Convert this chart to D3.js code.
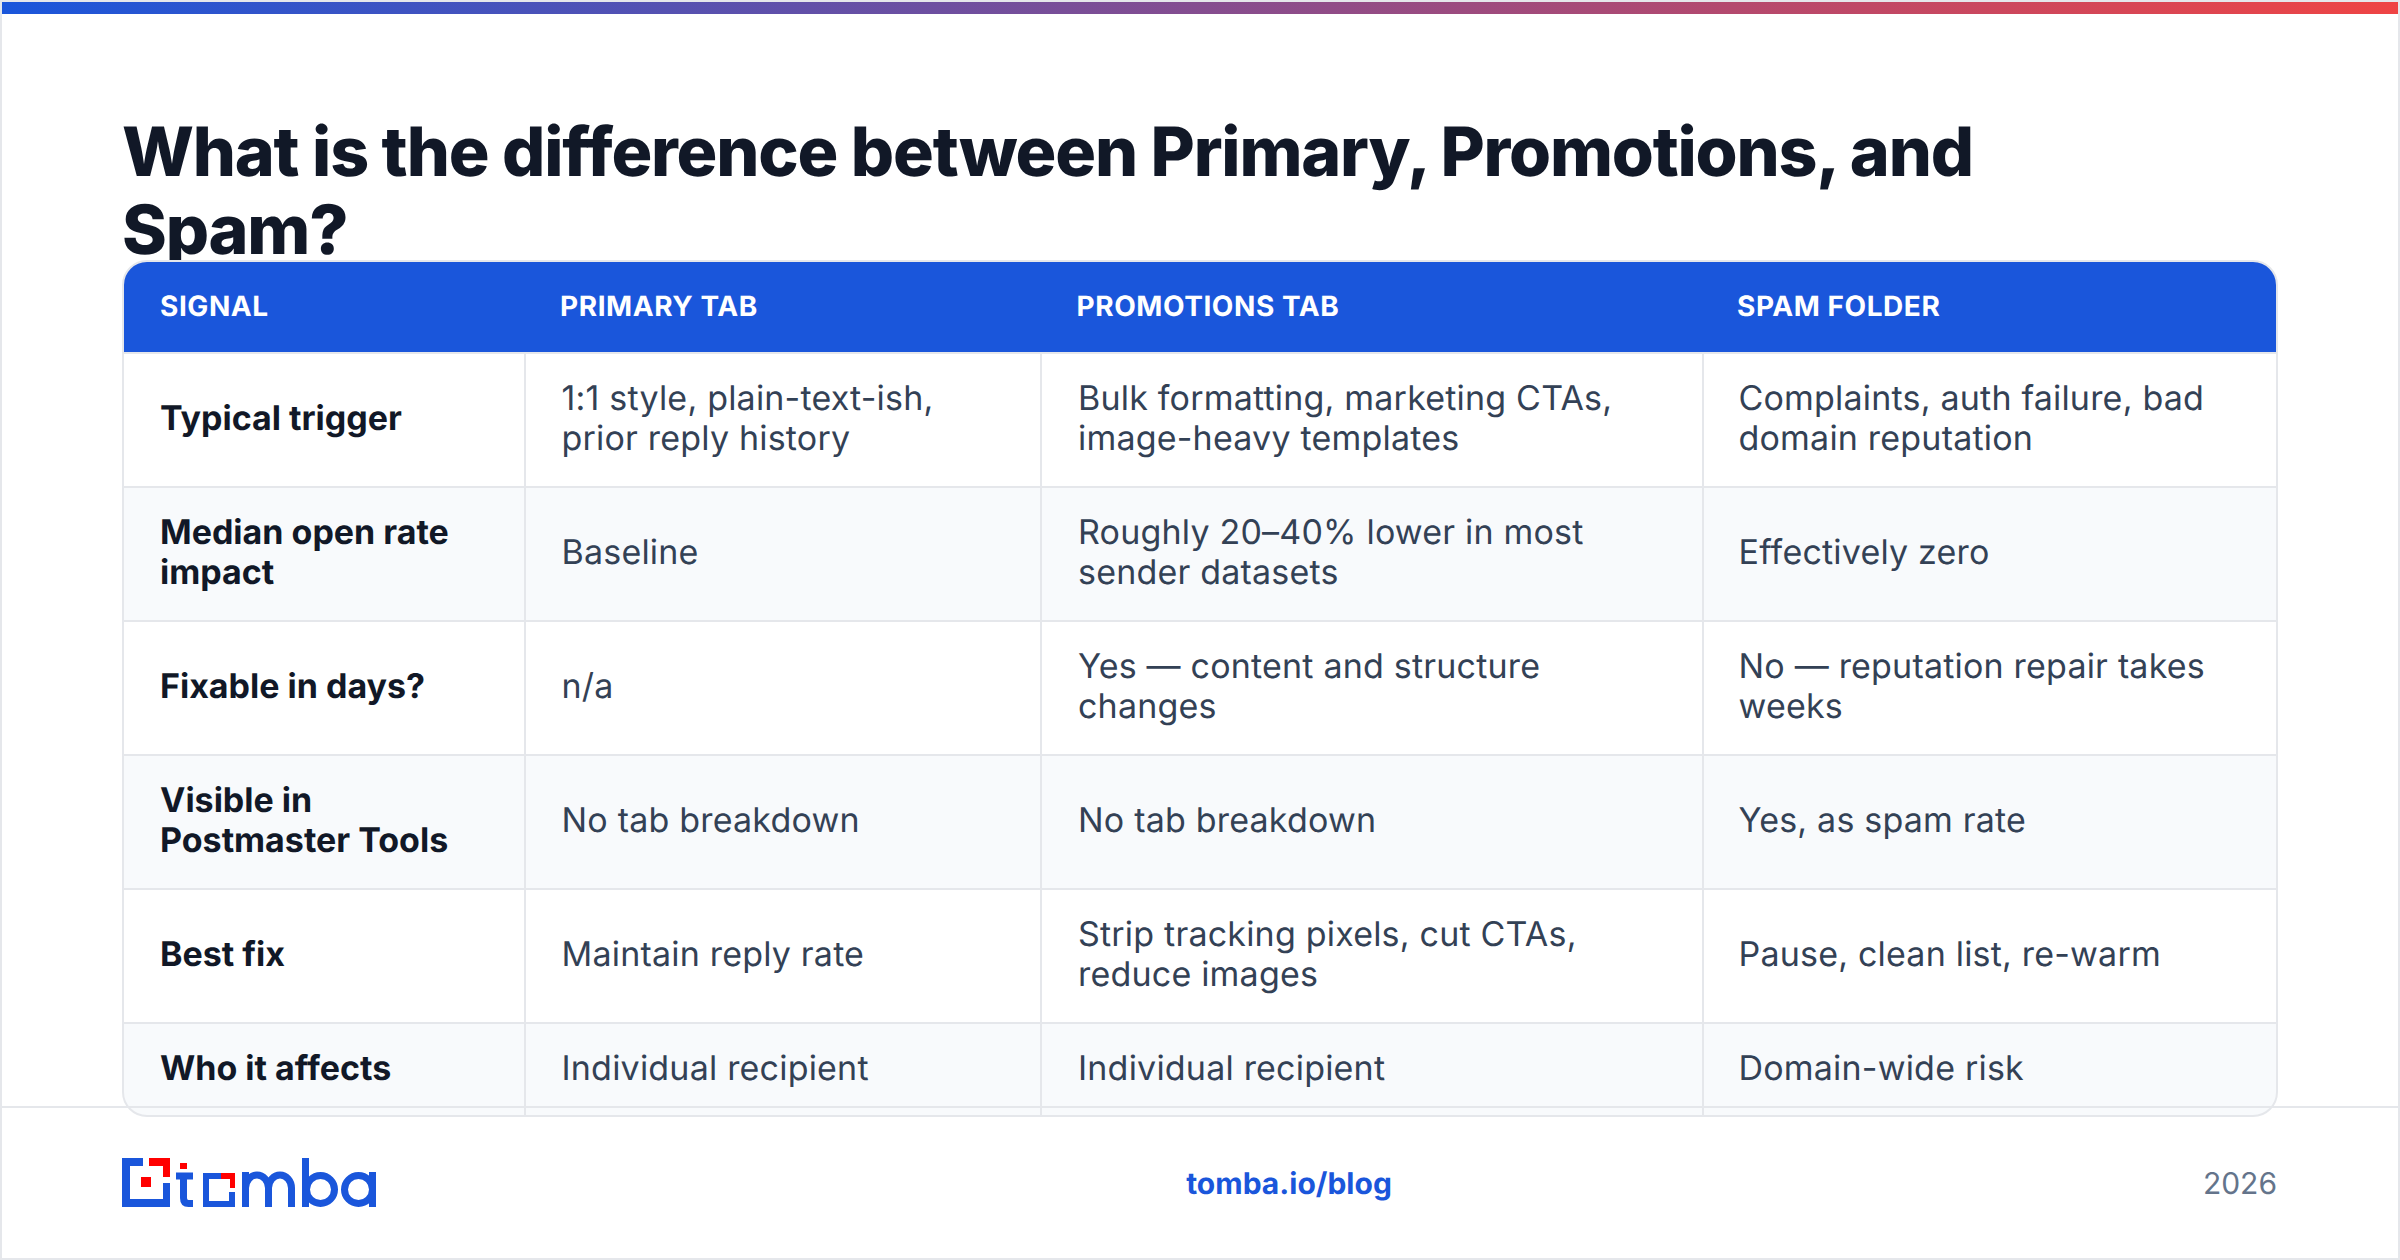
<!DOCTYPE html>
<html>
<head>
<meta charset="utf-8">
<title>Primary, Promotions, Spam</title>
<script src="https://cdn.jsdelivr.net/npm/d3@7"></script>
<style>
    html, body { margin: 0; padding: 0; background: #fff; }
    svg { display: block; font-family: Inter, sans-serif; text-rendering: geometricPrecision; }
</style>
</head>
<body>
<svg id="chart" width="2400" height="1260"></svg>
<script>
var titleLines = ['What is the difference between Primary, Promotions, and', 'Spam?'];
var columns = ['SIGNAL', 'PRIMARY TAB', 'PROMOTIONS TAB', 'SPAM FOLDER'];
var signals = [
    ['Typical trigger'],
    ['Median open rate', 'impact'],
    ['Fixable in days?'],
    ['Visible in', 'Postmaster Tools'],
    ['Best fix'],
    ['Who it affects']
];
var primaryTab = [
    ['1:1 style, plain-text-ish,', 'prior reply history'],
    ['Baseline'],
    ['n/a'],
    ['No tab breakdown'],
    ['Maintain reply rate'],
    ['Individual recipient']
];
var promotionsTab = [
    ['Bulk formatting, marketing CTAs,', 'image-heavy templates'],
    ['Roughly 20–40% lower in most', 'sender datasets'],
    ['Yes — content and structure', 'changes'],
    ['No tab breakdown'],
    ['Strip tracking pixels, cut CTAs,', 'reduce images'],
    ['Individual recipient']
];
var spamFolder = [
    ['Complaints, auth failure, bad', 'domain reputation'],
    ['Effectively zero'],
    ['No — reputation repair takes', 'weeks'],
    ['Yes, as spam rate'],
    ['Pause, clean list, re-warm'],
    ['Domain-wide risk']
];
var footerUrl = 'tomba.io/blog';
var footerYear = '2026';

var W = 2400, H = 1260;
var BORDER = '#e5e7eb', BLUE = '#1a56db', RED = '#ef4444', LOGORED = '#f00', INK = '#111827', BODY = '#334155';

// table layout
var tx0 = 123, tx1 = 2277, ty0 = 261, ty1 = 1116, headH = 91;
var lineX = [525, 1041, 1703];
var headX = [160, 560, 1076.5, 1737];
var cellX = [160, 561.5, 1078, 1738.5];
var rowY = [353, 487, 621, 755, 889, 1023, 1118];
var rows = signals.map(function(s, i) {
    return [s, primaryTab[i], promotionsTab[i], spamFolder[i]];
});

var svg = d3.select('#chart');
var defs = svg.append('defs');

var grad = defs.append('linearGradient').attr('id', 'topbar');
grad.append('stop').attr('offset', 0).attr('stop-color', BLUE);
grad.append('stop').attr('offset', 1).attr('stop-color', RED);

defs.append('clipPath').attr('id', 'tableClip').append('rect')
    .attr('x', tx0).attr('y', ty0).attr('width', tx1 - tx0).attr('height', ty1 - ty0).attr('rx', 24);

// page frame and top bar
svg.append('rect').attr('width', W).attr('height', H).attr('fill', '#fff');
svg.append('rect').attr('x', 2).attr('y', 2).attr('width', W - 4).attr('height', 12).attr('fill', 'url(#topbar)');
svg.append('rect').attr('x', 1).attr('y', 1).attr('width', W - 2).attr('height', H - 2)
    .attr('fill', 'none').attr('stroke', BORDER).attr('stroke-width', 2);

// title
svg.append('g').selectAll('text').data(titleLines).join('text')
    .attr('x', 122)
    .attr('y', function(d, i) { return 176 + i * 78; })
    .attr('font-size', 68).attr('font-weight', 800).attr('letter-spacing', -1.19)
    .attr('fill', INK)
    .text(function(d) { return d; });

// table body
var table = svg.append('g').attr('clip-path', 'url(#tableClip)');
table.append('rect').attr('x', tx0).attr('y', ty0).attr('width', tx1 - tx0).attr('height', ty1 - ty0).attr('fill', '#fff');
table.append('rect').attr('x', tx0).attr('y', ty0).attr('width', tx1 - tx0).attr('height', headH).attr('fill', BLUE);

var rowG = table.selectAll('g.row').data(rows).join('g').attr('class', 'row');
rowG.append('rect')
    .attr('x', tx0).attr('width', tx1 - tx0)
    .attr('y', function(d, i) { return rowY[i]; })
    .attr('height', function(d, i) { return rowY[i + 1] - rowY[i]; })
    .attr('fill', function(d, i) { return i % 2 ? '#f8fafc' : '#fff'; });

// row lines
table.selectAll('line.hline').data(rowY.slice(0, 6)).join('line')
    .attr('class', 'hline')
    .attr('x1', tx0).attr('x2', tx1)
    .attr('y1', function(d) { return d; }).attr('y2', function(d) { return d; })
    .attr('stroke', BORDER).attr('stroke-width', 2);

// column lines
table.selectAll('line.vline').data(lineX).join('line')
    .attr('class', 'vline')
    .attr('x1', function(d) { return d; }).attr('x2', function(d) { return d; })
    .attr('y1', 353).attr('y2', ty1)
    .attr('stroke', BORDER).attr('stroke-width', 2);

// header labels
table.selectAll('text.head').data(columns).join('text')
    .attr('class', 'head')
    .attr('x', function(d, i) { return headX[i]; })
    .attr('y', 316)
    .attr('font-size', 28).attr('font-weight', 700).attr('letter-spacing', 0.56)
    .attr('fill', '#fff')
    .text(function(d) { return d; });

// cells, wrapped lines are centred on the row
rowG.each(function(row, r) {
    var mid = (rowY[r] + rowY[r + 1]) / 2 - 1;
    row.forEach(function(lines, c) {
        d3.select(this).selectAll(null).data(lines).join('text')
            .attr('x', cellX[c])
            .attr('y', function(d, i) { return mid + 10.5 + (i - (lines.length - 1) / 2) * 40; })
            .attr('font-size', 34)
            .attr('font-weight', c ? 400 : 700)
            .attr('letter-spacing', c ? 0.2 : 0)
            .attr('fill', c ? BODY : INK)
            .text(function(d) { return d; });
    }, this);
});

// footer line runs across the table bottom
svg.append('line').attr('x1', 2).attr('x2', W - 2).attr('y1', 1107).attr('y2', 1107)
    .attr('stroke', BORDER).attr('stroke-width', 2);

// table outline
svg.append('rect').attr('x', tx0).attr('y', ty0).attr('width', tx1 - tx0).attr('height', ty1 - ty0)
    .attr('rx', 24).attr('fill', 'none').attr('stroke', BORDER).attr('stroke-width', 2);

// logo mark
var logo = svg.append('g').attr('fill', BLUE);
logo.append('path').attr('d', 'M122 1158h21v8h-13v33h33v-16h7v24h-48z');
logo.append('path').attr('fill', LOGORED).attr('d', 'M149 1158h21v19h-7v-11h-14z');
logo.append('rect').attr('fill', LOGORED).attr('x', 141).attr('y', 1177).attr('width', 10).attr('height', 10);
logo.append('rect').attr('fill', LOGORED).attr('x', 180).attr('y', 1163).attr('width', 7).attr('height', 6);
logo.append('path').attr('d', 'M203 1173h18v6h-12v22h20v-9h6v15h-32z');
logo.append('path').attr('fill', LOGORED).attr('d', 'M221 1173h14v15h-5v-9h-9z');

// logo wordmark strokes
logo.selectAll('path.stroke').data([
    'M176 1176h17M183.500 1173v25q0 5.500 5 5.500h4.500',
    'M245.500 1207v-35M245.500 1188a11.500 13 0 0 1 23 0v19M268.500 1188a11.500 13 0 0 1 23 0v19',
    'M305.500 1158v49',
    'M372.500 1172v35'
]).join('path')
    .attr('class', 'stroke')
    .attr('d', function(d) { return d; })
    .attr('fill', 'none').attr('stroke', BLUE).attr('stroke-width', 7);
logo.selectAll('circle').data([320.5, 358.5]).join('circle')
    .attr('cx', function(d) { return d; }).attr('cy', 1189.5).attr('r', 14)
    .attr('fill', 'none').attr('stroke', BLUE).attr('stroke-width', 7);

// footer text
svg.append('text').attr('x', 1289).attr('y', 1194).attr('text-anchor', 'middle')
    .attr('font-size', 30).attr('font-weight', 700).attr('fill', BLUE).text(footerUrl);
svg.append('text').attr('x', 2277).attr('y', 1194).attr('text-anchor', 'end')
    .attr('font-size', 30).attr('fill', '#64748b').text(footerYear);
</script>
</body>
</html>
